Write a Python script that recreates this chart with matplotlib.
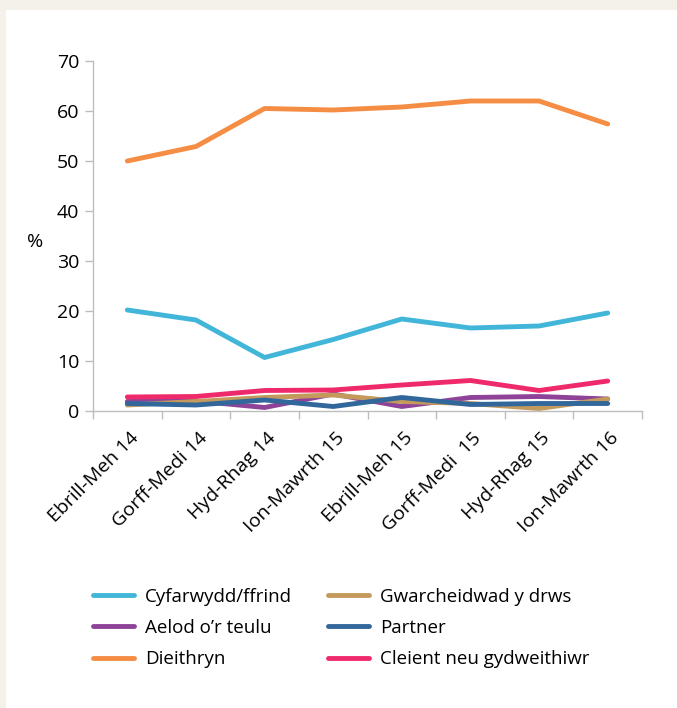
import matplotlib.pyplot as plt
import matplotlib.patches as mpatches
from matplotlib.transforms import ScaledTranslation

plt.rcParams['font.family'] = ['Open Sans', 'DejaVu Sans']

# --- Data ---
periods = ["Ebrill-Meh 14", "Gorff-Medi 14", "Hyd-Rhag 14", "Ion-Mawrth 15",
           "Ebrill-Meh 15", "Gorff-Medi  15", "Hyd-Rhag 15", "Ion-Mawrth 16"]

cyfarwydd = [20.2, 18.2, 10.7, 14.3, 18.4, 16.6, 17.0, 19.6]
aelod = [1.9, 2.0, 0.7, 3.4, 0.9, 2.7, 2.9, 2.4]
dieithryn = [50.0, 52.9, 60.5, 60.2, 60.8, 62.0, 62.0, 57.4]
gwarcheidwad = [1.2, 1.9, 2.7, 3.2, 1.9, 1.5, 0.5, 2.4]
partner = [1.5, 1.2, 2.2, 0.9, 2.7, 1.3, 1.5, 1.5]
cleient = [2.8, 2.9, 4.1, 4.2, 5.2, 6.1, 4.1, 6.0]

series = [
    ("Cyfarwydd/ffrind", cyfarwydd, "#41b6d9"),
    ("Aelod o\u2019r teulu", aelod, "#8e4399"),
    ("Dieithryn", dieithryn, "#f58d45"),
    ("Gwarcheidwad y drws", gwarcheidwad, "#c39a5b"),
    ("Partner", partner, "#32679b"),
    ("Cleient neu gydweithiwr", cleient, "#ee2a6b"),
]

# --- Figure ---
fig = plt.figure(figsize=(6.77, 7.08), dpi=100)
fig.patch.set_facecolor("#f4f0ea")
fig.patches.append(mpatches.Rectangle((6 / 677, 0), 1, 1 - 10 / 708,
                                      transform=fig.transFigure,
                                      facecolor="white", edgecolor="none", zorder=-10))

ax = fig.add_axes([93 / 677, 1 - 411 / 708, (642 - 93) / 677, (411 - 61) / 708])
ax.set_facecolor("none")

x = list(range(len(periods)))
for name, vals, col in series:
    ax.plot(x, vals, color=col, lw=3.5, label=name, solid_capstyle="round",
            solid_joinstyle="round")

ax.set_xlim(-0.5, len(periods) - 0.5)
ax.set_ylim(0, 70)
ax.set_yticks(range(0, 71, 10))
ax.tick_params(axis="y", labelsize=14, color="#bdbdbd", length=6, width=1, pad=4)

ax.set_xticks(x)
ax.set_xticklabels(periods, rotation=45, ha="right", va="top",
                   rotation_mode="anchor", fontsize=14)
ax.set_xticks([i - 0.5 for i in range(len(periods) + 1)], minor=True)
ax.tick_params(axis="x", which="major", length=0, pad=13)
ax.tick_params(axis="x", which="minor", length=6, color="#bdbdbd", width=1)
shift = ScaledTranslation(2 / 100, 0, fig.dpi_scale_trans)
for lbl in ax.get_xticklabels():
    lbl.set_transform(lbl.get_transform() + shift)

for side in ["top", "right"]:
    ax.spines[side].set_visible(False)
for side in ["left", "bottom"]:
    ax.spines[side].set_color("#bdbdbd")
    ax.spines[side].set_linewidth(1)

ax.set_ylabel("%", rotation=0, fontsize=14, va="center", ha="center")
ax.yaxis.set_label_coords(-58 / 549, 33.8 / 70)

fig.legend(loc="upper left", bbox_to_anchor=(76 / 677, 1 - 571 / 708), ncol=2,
           frameon=False, fontsize=13.5, handlelength=2.2, handletextpad=0.6,
           columnspacing=1.9, labelspacing=0.7)

fig.savefig("out.png", dpi=100, facecolor=fig.get_facecolor())
